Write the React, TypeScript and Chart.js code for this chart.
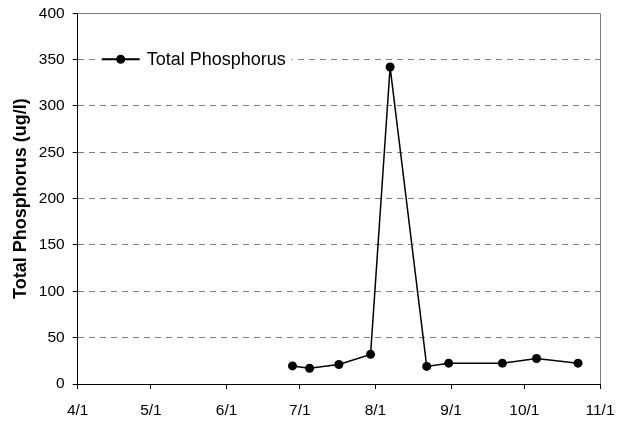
import React, { useEffect, useRef } from "react";
import { Chart, registerables } from "chart.js";

Chart.register(...registerables);

const sampleDates = ["6/28", "7/5", "7/17", "7/30", "8/7", "8/22", "8/31", "9/22", "10/6", "10/23"];
const phosphorus = [19.5, 17, 21, 32, 342, 19, 22.5, 22.5, 27.5, 22.5];
const xTickLabels = ["4/1", "5/1", "6/1", "7/1", "8/1", "9/1", "10/1", "11/1"];
const yMin = 0;
const yMax = 400;
const yStep = 50;
const seriesLabel = "Total Phosphorus";
const yAxisTitle = "Total Phosphorus (ug/l)";

const FONT = "'Liberation Sans', Arial, Helvetica, sans-serif";

const toDay = (s: string) => {
  const [m, d] = s.split("/").map(Number);
  return (Date.UTC(2001, m - 1, d) - Date.UTC(2001, 3, 1)) / 86400000;
};

const xTickDays = xTickLabels.map(toDay);

const legendPlugin = {
  id: "insideLegend",
  beforeDatasetsDraw(chart: any) {
    const { ctx, chartArea } = chart;
    const ds = chart.data.datasets[0];
    const left = chartArea.left;
    const yc = chartArea.top + 46;
    ctx.save();
    ctx.fillStyle = "#ffffff";
    ctx.fillRect(left + 17, yc - 12, 197, 24);
    ctx.strokeStyle = ds.borderColor;
    ctx.lineWidth = 2;
    ctx.beginPath();
    ctx.moveTo(left + 24, yc);
    ctx.lineTo(left + 62, yc);
    ctx.stroke();
    ctx.fillStyle = ds.pointBackgroundColor;
    ctx.beginPath();
    ctx.arc(left + 43, yc, 4.5, 0, Math.PI * 2);
    ctx.fill();
    ctx.fillStyle = "#000";
    ctx.font = `18px ${FONT}`;
    ctx.textBaseline = "middle";
    ctx.textAlign = "left";
    ctx.fillText(ds.label, left + 69, yc + 1);
    ctx.restore();
  },
};

export default function App() {
  const ref = useRef<HTMLCanvasElement>(null);

  useEffect(() => {
    if (!ref.current) return;
    const chart = new Chart(ref.current, {
      type: "line",
      data: {
        datasets: [
          {
            label: seriesLabel,
            data: sampleDates.map((d, i) => ({ x: toDay(d), y: phosphorus[i] })),
            borderColor: "#000",
            borderWidth: 1.5,
            pointBackgroundColor: "#000",
            pointBorderColor: "#000",
            pointRadius: 4.5,
            pointBorderWidth: 0,
            tension: 0,
            fill: false,
          },
        ],
      },
      options: {
        animation: false,
        responsive: true,
        maintainAspectRatio: false,
        layout: { padding: { top: 13.3, right: 34, left: 0, bottom: 0 } },
        plugins: {
          legend: { display: false },
          tooltip: { enabled: false },
        },
        scales: {
          x: {
            type: "linear",
            min: xTickDays[0],
            max: xTickDays[xTickDays.length - 1],
            afterBuildTicks: (scale: any) => {
              scale.ticks = xTickDays.map((v) => ({ value: v }));
            },
            afterFit: (scale: any) => {
              scale.height = 41;
              scale.paddingLeft = 0;
              scale.paddingRight = 0;
            },
            ticks: {
              autoSkip: false,
              maxRotation: 0,
              padding: 12,
              color: "#000",
              font: { family: FONT, size: 15.5 },
              callback: (v: any) => {
                const i = xTickDays.indexOf(Number(v));
                return i >= 0 ? xTickLabels[i] : "";
              },
            },
            grid: {
              color: (ctx: any) =>
                ctx.tick && ctx.tick.value === xTickDays[xTickDays.length - 1] ? "#808080" : "rgba(0,0,0,0)",
              tickColor: "#000",
              tickLength: 5,
              lineWidth: 1,
            },
            border: { color: "#000", width: 1 },
          },
          y: {
            min: yMin,
            max: yMax,
            afterFit: (scale: any) => {
              scale.width = 77.7;
              scale.paddingTop = 0;
              scale.paddingBottom = 0;
            },
            ticks: {
              stepSize: yStep,
              padding: 8,
              color: "#000",
              font: { family: FONT, size: 15.5 },
            },
            grid: {
              color: (ctx: any) => (ctx.tick && ctx.tick.value === yMin ? "rgba(0,0,0,0)" : "#808080"),
              tickColor: "#000",
              tickLength: 5,
              tickBorderDash: [],
              lineWidth: 1,
            },
            border: {
              color: "#000",
              width: 1,
              dash: (ctx: any) => (ctx.tick && ctx.tick.value === yMax ? [] : [6, 5]),
            },
            title: {
              display: true,
              text: yAxisTitle,
              color: "#000",
              font: { family: FONT, size: 18, weight: "bold" },
              padding: { top: 10.7, bottom: 0 },
            },
          },
        },
      },
      plugins: [legendPlugin],
    } as any);
    return () => chart.destroy();
  }, []);

  return (
    <div style={{ position: "absolute", left: 0, top: 0, width: 634, height: 425 }}>
      <canvas ref={ref} />
    </div>
  );
}
